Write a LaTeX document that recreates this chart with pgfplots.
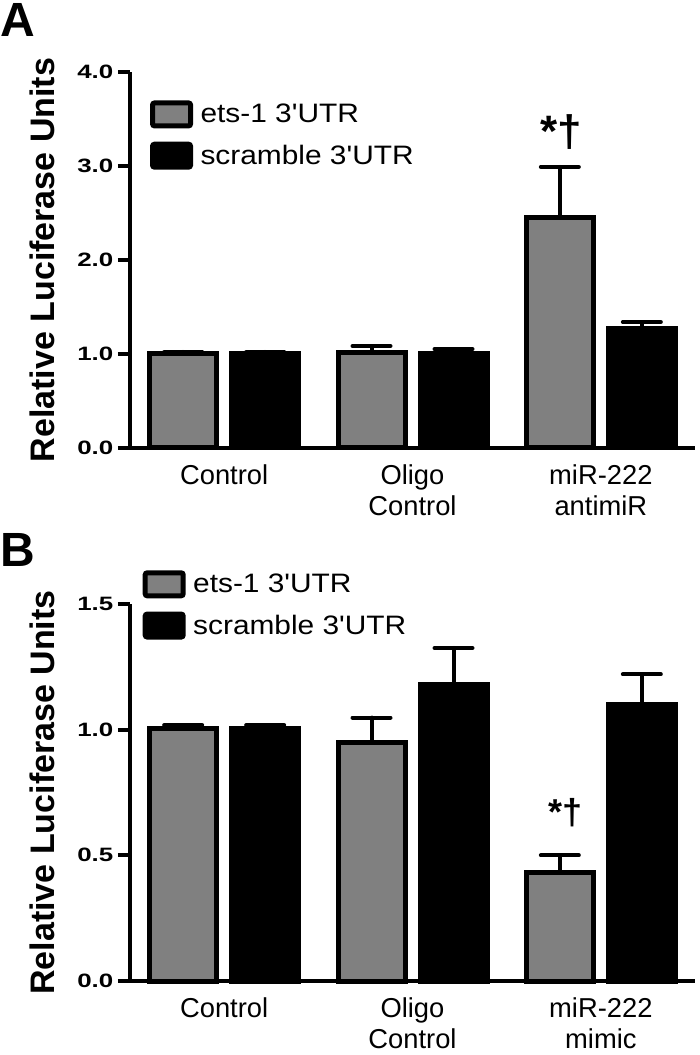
\documentclass[border=0pt]{standalone}
\usepackage{fontspec}
\setmainfont{Liberation Sans}
\newfontfamily\tickfont[FakeStretch=1.34]{Liberation Sans}
\newfontfamily\legfont[FakeStretch=1.12]{Liberation Sans}
\usepackage{pgfplots}
\usepackage{pgfplotstable}
\pgfplotsset{compat=1.18}
\definecolor{bargray}{HTML}{808080}

\pgfplotstableread{
x g ge k ke
0 1.01 0.012 1.01 0.012
1 1.02 0.065 1.00 0.05
2 2.45 0.54 1.27 0.07
}\dataA
\pgfplotstableread{
x g ge k ke
0 1.006 0.012 1.006 0.012
1 0.948 0.10 1.18 0.145
2 0.43 0.07 1.10 0.12
}\dataB

\pgfplotsset{
  panel/.style={
    scale only axis, width=423.75pt,
    xmin=-0.5, xmax=2.5,
    ymin=0,
    axis x line*=bottom, axis y line*=left,
    axis line style={line width=3pt, -},
    ybar=11.25pt, bar width=50.25pt,
    legend image code/.code={\draw[##1, rounded corners=1.5pt] (0pt,-8.6pt) rectangle (28.5pt,8.6pt); \path[draw=none, fill=none] (28.5pt,0pt) -- (34pt,0pt);},
    xtick={0,1,2}, x tick style={draw=none},
    xticklabel style={font=\fontsize{20.5}{23}\selectfont, align=center},
    y tick style={line width=3pt, black},
    major tick length=9pt, tick align=outside,
    yticklabel style={font=\tickfont\bfseries\fontsize{14.5}{17}\selectfont},
    /pgf/number format/.cd, fixed, fixed zerofill, precision=1, assume math mode=true, /pgfplots/.cd,
    ylabel={Relative Luciferase Units}, ylabel shift=10pt,
    ylabel style={font=\bfseries\fontsize{25.5}{28}\selectfont},
    legend style={draw=none, fill=none, anchor=north west, inner sep=0pt, row sep=10pt, legend cell align=left, font=\legfont\fontsize{20}{22}\selectfont},
    error bars/y dir=plus, error bars/y explicit,
    error bars/error mark=|,
    error bars/error bar style={line width=3pt, black, line cap=round},
    error bars/error mark options={line width=3pt, black, mark size=14.25pt, line cap=round},
    clip=false,
  },
  gbar/.style={fill=bargray, draw=black, line width=3.75pt},
  kbar/.style={fill=black, draw=black, line width=3.75pt},
}

\begin{document}
\begin{tikzpicture}
\begin{axis}[panel, at={(97.5pt,455.25pt)}, anchor=south west, height=282pt,
  ymax=4, ytick={0,1,2,3,4},
  xticklabels={Control, {Oligo\\Control}, {miR-222\\antimiR}},
  legend style={at={(0.035,0.925)}}]
\addplot[gbar] table[x=x, y=g, y error=ge]{\dataA};
\addplot[kbar] table[x=x, y=k, y error=ke]{\dataA};
\legend{ets-1 3'UTR, scramble 3'UTR}
\node[font=\bfseries\fontsize{33}{35}\selectfont, anchor=south, inner sep=0pt] at (axis cs:1.789,3.17) {*†};
\end{axis}
\begin{axis}[panel, at={(97.5pt,55.5pt)}, anchor=south west, height=282.75pt,
  ymax=1.5, ytick={0,0.5,1,1.5},
  xticklabels={Control, {Oligo\\Control}, {miR-222\\mimic}},
  legend style={at={(0.022,1.09)}}]
\addplot[gbar] table[x=x, y=g, y error=ge]{\dataB};
\addplot[kbar] table[x=x, y=k, y error=ke]{\dataB};
\legend{ets-1 3'UTR, scramble 3'UTR}
\node[font=\bfseries\fontsize{27}{29}\selectfont, anchor=south, inner sep=0pt] at (axis cs:1.815,0.612) {*†};
\end{axis}
\node[anchor=north west, inner sep=0pt, font=\bfseries\fontsize{36}{36}\selectfont] at (0pt,789pt) {A};
\node[anchor=north west, inner sep=0pt, font=\bfseries\fontsize{36}{36}\selectfont] at (0pt,391.5pt) {B};
\pgfresetboundingbox
\useasboundingbox (0pt,0pt) rectangle (524.25pt,791.25pt);
\end{tikzpicture}
\end{document}
